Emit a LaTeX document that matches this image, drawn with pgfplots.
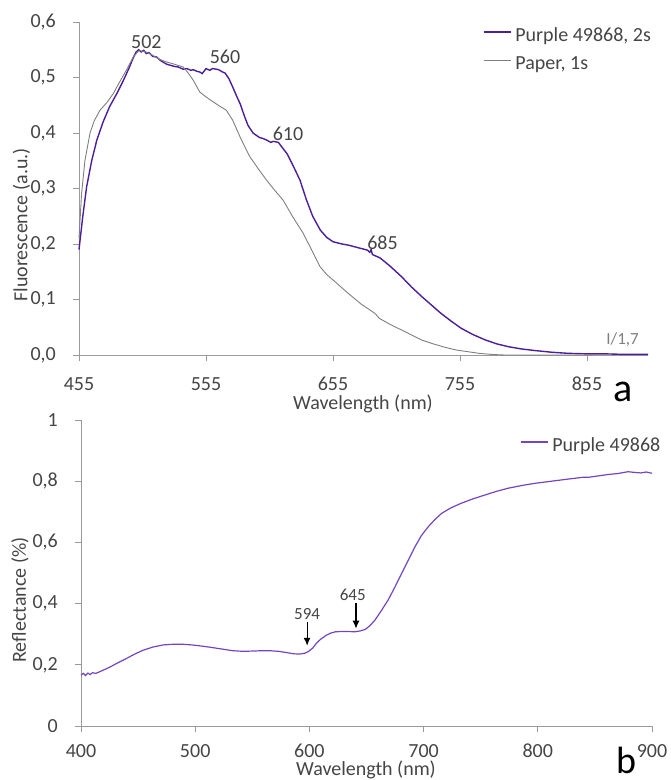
\documentclass[border=0pt]{standalone}
\usepackage{fontspec}
\setmainfont{Carlito}
\usepackage{pgfplots}
\pgfplotsset{compat=1.18}
\usetikzlibrary{arrows.meta}
\definecolor{fpurple}{HTML}{4B1E9C}
\definecolor{rpurple}{HTML}{7445C2}
\definecolor{papergray}{HTML}{7F7F7F}
\definecolor{axisgray}{HTML}{9A9A9A}
\definecolor{txt}{HTML}{454545}
\pgfplotsset{
  base/.style={
    scale only axis,
    anchor=south west,
    axis lines=left,
    axis line style={draw=axisgray, line width=0.9pt, -},
    tick align=outside,
    major tick length=6pt,
    tick style={draw=axisgray, line width=0.9pt},
    font=\fontsize{20}{24}\selectfont,
    /pgf/number format/assume math mode=true,
    /pgf/number format/use comma,
    /pgf/number format/fixed,
    tick label style={text=txt},
    yticklabel style={anchor=east, inner sep=0pt, xshift=-17pt},
    clip=false,
    legend style={draw=none, fill=none, inner sep=0pt, outer sep=0pt,
      font=\fontsize{20}{24}\selectfont, text=txt, row sep=9pt, column sep=4pt,
      nodes={inner sep=0pt, text height=14pt, text depth=5pt}},
    legend cell align=left,
    legend image code/.code={\draw[#1] (0pt,5pt) -- (27pt,5pt);},
  }
}
\begin{document}
\begin{tikzpicture}
\path[use as bounding box] (0pt,0pt) rectangle (671pt,780pt);
% ---------- panel a ----------
\begin{axis}[base,
  at={(79pt,425pt)}, width=569pt, height=333pt,
  xmin=455, xmax=903, ymin=0, ymax=0.6,
  xtick={455,555,655,755,855},
  ytick={0,0.1,0.2,0.3,0.4,0.5,0.6},
  yticklabel style={/pgf/number format/fixed zerofill, /pgf/number format/precision=1},
  xticklabel style={anchor=base, yshift=-30pt, inner sep=0pt},
  legend style={at={(axis description cs:0.71,0.983)}, anchor=north west},
]
\addplot[fpurple, line width=1.4pt] coordinates {
(455,0.190) (458,0.250) (461,0.303) (465,0.350) (469,0.387) (474,0.420)
(479,0.447) (485,0.472) (490,0.495) (494,0.515) (498,0.537) (500,0.546)
(502,0.550) (504,0.546) (506,0.549) (508,0.543) (510,0.545) (513,0.538)
(516,0.537) (519,0.531) (521,0.528) (524,0.524) (527,0.522) (530,0.520)
(533,0.519) (537,0.515) (540,0.516) (543,0.513) (545,0.514) (548,0.511)
(550,0.510) (552,0.507) (555,0.516) (558,0.513) (560,0.516) (563,0.515)
(565,0.514) (568,0.510) (570,0.508) (573,0.498) (576,0.483) (579,0.467)
(582,0.452) (585,0.432) (588,0.414) (592,0.400) (597,0.392) (600,0.390)
(603,0.387) (606,0.383) (608,0.385) (612,0.383) (615,0.374) (619,0.362)
(624,0.339) (629,0.315) (634,0.280) (639,0.250) (645,0.225) (650,0.212)
(655,0.204) (662,0.200) (667,0.198) (672,0.195) (677,0.192) (682,0.189)
(684,0.185) (685,0.190) (686,0.181) (692,0.175) (700,0.160) (709,0.141)
(717,0.122) (725,0.105) (733,0.089) (740,0.075) (748,0.061) (756,0.048)
(765,0.037) (775,0.027) (784,0.020) (793,0.015) (803,0.011) (814,0.008)
(827,0.005) (840,0.003) (855,0.002) (870,0.002) (885,0.001) (903,0.001)
};
\addlegendentry{Purple 49868, 2s}
\addplot[papergray, line width=0.9pt] coordinates {
(455,0.210) (457,0.290) (459.7,0.351) (463.7,0.400) (467,0.422) (471.5,0.441)
(477,0.455) (482,0.471) (487,0.492) (492.5,0.514) (497.7,0.537) (502,0.548)
(507,0.547) (513,0.540) (518,0.533) (524,0.528) (530,0.524) (537,0.519)
(541,0.508) (545,0.495) (550,0.474) (555,0.465) (560.7,0.456) (566,0.448)
(571,0.441) (576,0.423) (581.8,0.393) (586,0.373) (589.6,0.357) (596,0.336)
(602.7,0.315) (609,0.297) (615.7,0.279) (623,0.250) (631.6,0.219) (638,0.190)
(644.8,0.159) (650,0.145) (656.6,0.132) (667,0.111) (677,0.092) (688,0.075)
(691.5,0.066) (700,0.055) (709,0.045) (717,0.036) (724.8,0.027) (734,0.020)
(743,0.014) (752,0.009) (761,0.006) (770,0.003) (780,0.001) (790,0.000)
(860,0.000)
};
\addlegendentry{Paper, 1s}
\node[text=txt, font=\fontsize{20}{24}\selectfont] at (axis cs:508,0.563) {502};
\node[text=txt, font=\fontsize{20}{24}\selectfont] at (axis cs:570,0.537) {560};
\node[text=txt, font=\fontsize{20}{24}\selectfont] at (axis cs:619.6,0.398) {610};
\node[text=txt, font=\fontsize{20}{24}\selectfont] at (axis cs:694,0.202) {685};
\node[text=papergray, font=\fontsize{17}{20}\selectfont] at (axis cs:883,0.027) {I/1,7};
\end{axis}
% ---------- panel b ----------
\begin{axis}[base,
  at={(81pt,54pt)}, width=571pt, height=306pt,
  xmin=400, xmax=900, ymin=0, ymax=1,
  xtick={400,500,600,700,800,900},
  ytick={0,0.2,0.4,0.6,0.8,1},
  yticklabel style={/pgf/number format/precision=1},
  xticklabel style={anchor=base, yshift=-26pt, inner sep=0pt},
  legend style={at={(axis description cs:0.769,0.943)}, anchor=north west},
]
\addplot[rpurple, line width=1.2pt] coordinates {
(400,0.167) (402,0.172) (404,0.165) (406,0.173) (408,0.168) (410,0.174)
(413,0.172) (418,0.180) (425,0.192) (432,0.206) (440,0.221) (447,0.235)
(454.6,0.248) (463,0.258) (472,0.265) (480,0.267) (489.6,0.267) (497,0.265)
(504,0.262) (512,0.258) (519,0.254) (526,0.250) (533,0.246) (542,0.244)
(551,0.245) (558,0.246) (565.5,0.246) (573,0.244) (580,0.240) (586,0.236)
(591.7,0.235) (596,0.238) (599,0.243) (603,0.255) (606,0.270) (610,0.284)
(615,0.297) (619,0.304) (623,0.308) (630,0.309) (640,0.308) (645,0.311)
(649,0.316) (653,0.328) (657.4,0.346) (663,0.377) (669,0.412) (675,0.455)
(680.8,0.499) (687,0.545) (692.5,0.586) (698,0.622) (704,0.651) (710,0.675)
(715.8,0.695) (724,0.713) (733,0.728) (743,0.742) (753.8,0.755) (764,0.767)
(774,0.777) (786,0.786) (797.5,0.793) (812,0.800) (826.7,0.807) (840,0.813)
(845,0.813) (861.7,0.822) (870,0.825) (879,0.831) (884,0.829) (890,0.827)
(895,0.830) (900,0.826)
};
\addlegendentry{Purple 49868}
\node[text=txt, font=\fontsize{17}{20}\selectfont] at (axis cs:598,0.366) {594};
\draw[-{Latex[length=8pt,width=7pt]}, line width=1.2pt] (axis cs:598,0.340) -- (axis cs:598,0.262);
\node[text=txt, font=\fontsize{17}{20}\selectfont] at (axis cs:638,0.428) {645};
\draw[-{Latex[length=8pt,width=7pt]}, line width=1.2pt] (axis cs:640.8,0.402) -- (axis cs:640.8,0.318);
\end{axis}
% ---------- labels ----------
\node[text=txt, font=\fontsize{20}{24}\selectfont, rotate=90, inner sep=0pt] at (21.5pt,555pt) {Fluorescence (a.u.)};
\node[text=txt, font=\fontsize{20}{24}\selectfont, anchor=base] at (363pt,370pt) {Wavelength (nm)};
\node[text=txt, font=\fontsize{20}{24}\selectfont, rotate=90, inner sep=0pt] at (20pt,180pt) {Reflectance (\%)};
\node[text=txt, font=\fontsize{20}{24}\selectfont, anchor=base] at (366pt,5pt) {Wavelength (nm)};
\node[font=\fontsize{40}{44}\selectfont, anchor=base, inner sep=0pt] at (623pt,378pt) {a};
\node[font=\fontsize{38}{42}\selectfont, anchor=base, inner sep=0pt] at (626pt,6pt) {b};
\end{tikzpicture}
\end{document}
